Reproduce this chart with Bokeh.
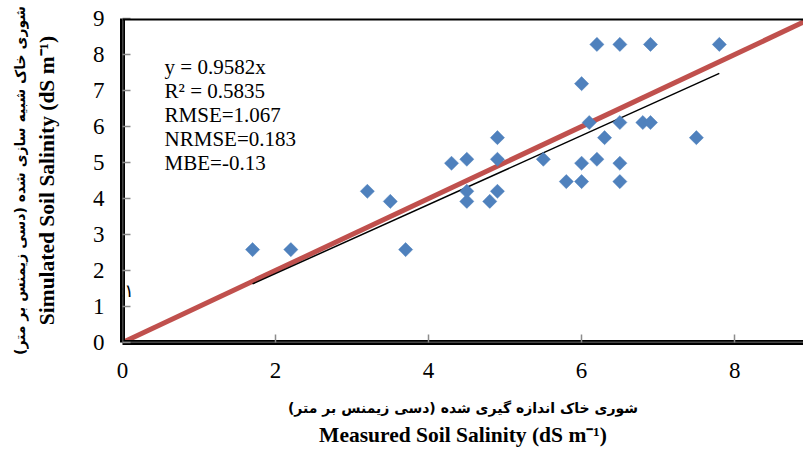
from bokeh.plotting import figure
from bokeh.models import Range1d, FixedTicker, LinearAxis, Span, Label
from bokeh.embed import file_html
from bokeh.resources import INLINE
import math

# ---------------- data ----------------
measured = [1.7, 2.2, 3.2, 3.5, 3.7, 4.3, 4.5, 4.5, 4.5, 4.8, 4.9, 4.9, 4.9, 5.5, 5.8,
            6.0, 6.0, 6.0, 6.1, 6.2, 6.2, 6.3, 6.5, 6.5, 6.5, 6.5, 6.8, 6.9, 6.9, 7.5, 7.8]
simulated = [2.58, 2.58, 4.2, 3.92, 2.58, 4.98, 5.09, 4.2, 3.92, 3.92, 5.69, 5.09, 4.2, 5.09, 4.47,
             7.19, 4.98, 4.47, 6.11, 8.28, 5.09, 5.69, 8.28, 6.11, 4.98, 4.47, 6.11, 6.11, 8.28, 5.69, 8.28]
slope = 0.9582
one_to_one = [0, 9]
stats_lines = ["y = 0.9582x", "R² = 0.5835", "RMSE=1.067", "NRMSE=0.183", "MBE=-0.13"]
x_ticks = [0, 2, 4, 6, 8]
y_ticks = [0, 1, 2, 3, 4, 5, 6, 7, 8, 9]
x_title_fa = "شوری خاک اندازه گیری شده (دسی زیمنس بر متر)"
x_title_en = "Measured Soil Salinity (dS m⁻¹)"
y_title_fa = "شوری خاک شبیه سازی شده (دسی زیمنس بر متر)"
y_title_en = "Simulated Soil Salinity (dS m⁻¹)"
ratio_text = "۱:۱"

SERIF = "Liberation Serif"
FA_FONT = "DejaVu Sans"

p = figure(width=803, height=450, output_backend="svg", toolbar_location=None,
           x_range=Range1d(0, 8.9), y_range=Range1d(0, 9),
           min_border_left=122, min_border_top=18, min_border_right=0, min_border_bottom=108)
p.outline_line_color = None
p.xgrid.visible = False
p.ygrid.visible = False
p.background_fill_color = "white"

# main axes
for ax, ticks in ((p.xaxis[0], x_ticks), (p.yaxis[0], y_ticks)):
    ax.ticker = FixedTicker(ticks=ticks)
    ax.minor_tick_line_color = None
    ax.major_tick_in = 8
    ax.major_tick_out = 0
    ax.major_tick_line_color = "#8c8c8c"
    ax.major_tick_line_width = 1.5
    ax.axis_line_color = "black"
    ax.axis_line_width = 5
    ax.major_label_text_font = SERIF
    ax.major_label_text_font_size = "23px"
    ax.major_label_text_color = "black"

p.xaxis[0].major_label_standoff = 20
p.yaxis[0].major_label_standoff = 18

p.xaxis[0].axis_label = x_title_fa
p.xaxis[0].axis_label_text_font = FA_FONT
p.xaxis[0].axis_label_text_font_size = "14px"
p.xaxis[0].axis_label_text_font_style = "bold"
p.xaxis[0].axis_label_standoff = 19
p.xaxis[0].axis_label_text_color = "black"

p.yaxis[0].axis_label = y_title_en
p.yaxis[0].axis_label_text_font = SERIF
p.yaxis[0].axis_label_text_font_size = "21.5px"
p.yaxis[0].axis_label_text_font_style = "bold"
p.yaxis[0].axis_label_standoff = 31
p.yaxis[0].axis_label_text_color = "black"


def title_axis(label, font, size, standoff):
    a = LinearAxis(ticker=FixedTicker(ticks=[]), axis_line_color=None,
                   major_tick_line_color=None, minor_tick_line_color=None,
                   major_label_text_font_size="0px", axis_label=label,
                   axis_label_text_font=font, axis_label_text_font_size=size,
                   axis_label_text_font_style="bold", axis_label_standoff=standoff,
                   axis_label_text_color="black")
    return a


p.add_layout(title_axis(x_title_en, SERIF, "21.5px", 4), "below")
p.add_layout(title_axis(y_title_fa, FA_FONT, "14px", 4), "left")

# inner stripes of the axis lines and top border
p.add_layout(Span(location=0, dimension="width", line_color="#8c8c8c", line_width=1.5))
p.add_layout(Span(location=0, dimension="height", line_color="#8c8c8c", line_width=1.5))
p.add_layout(Span(location=9, dimension="width", line_color="black", line_width=4))

# 1:1 line
p.line(one_to_one, one_to_one, line_color="#C0504D", line_width=5)

# trend line
tx = [min(measured), max(measured)]
p.line(tx, [slope * v for v in tx], line_color="black", line_width=1.5)

# points
p.scatter(measured, simulated, marker="square", size=10, angle=math.pi / 4,
          fill_color="#4F81BD", line_color="#4F81BD", line_width=0.5)

# stats text
for i, s in enumerate(stats_lines):
    p.add_layout(Label(x=0.55, y=7.64 - i * 0.66, text=s, text_font=SERIF,
                       text_font_size="21px", text_baseline="middle", text_align="left",
                       text_color="black"))

# partly hidden "1:1" note at the left axis
p.add_layout(Label(x=0.15, y=1.44, text=ratio_text, text_font=FA_FONT,
                   text_font_size="18px", text_baseline="middle", text_align="right",
                   text_color="black"))

open("out.html", "w").write(file_html(p, INLINE))
